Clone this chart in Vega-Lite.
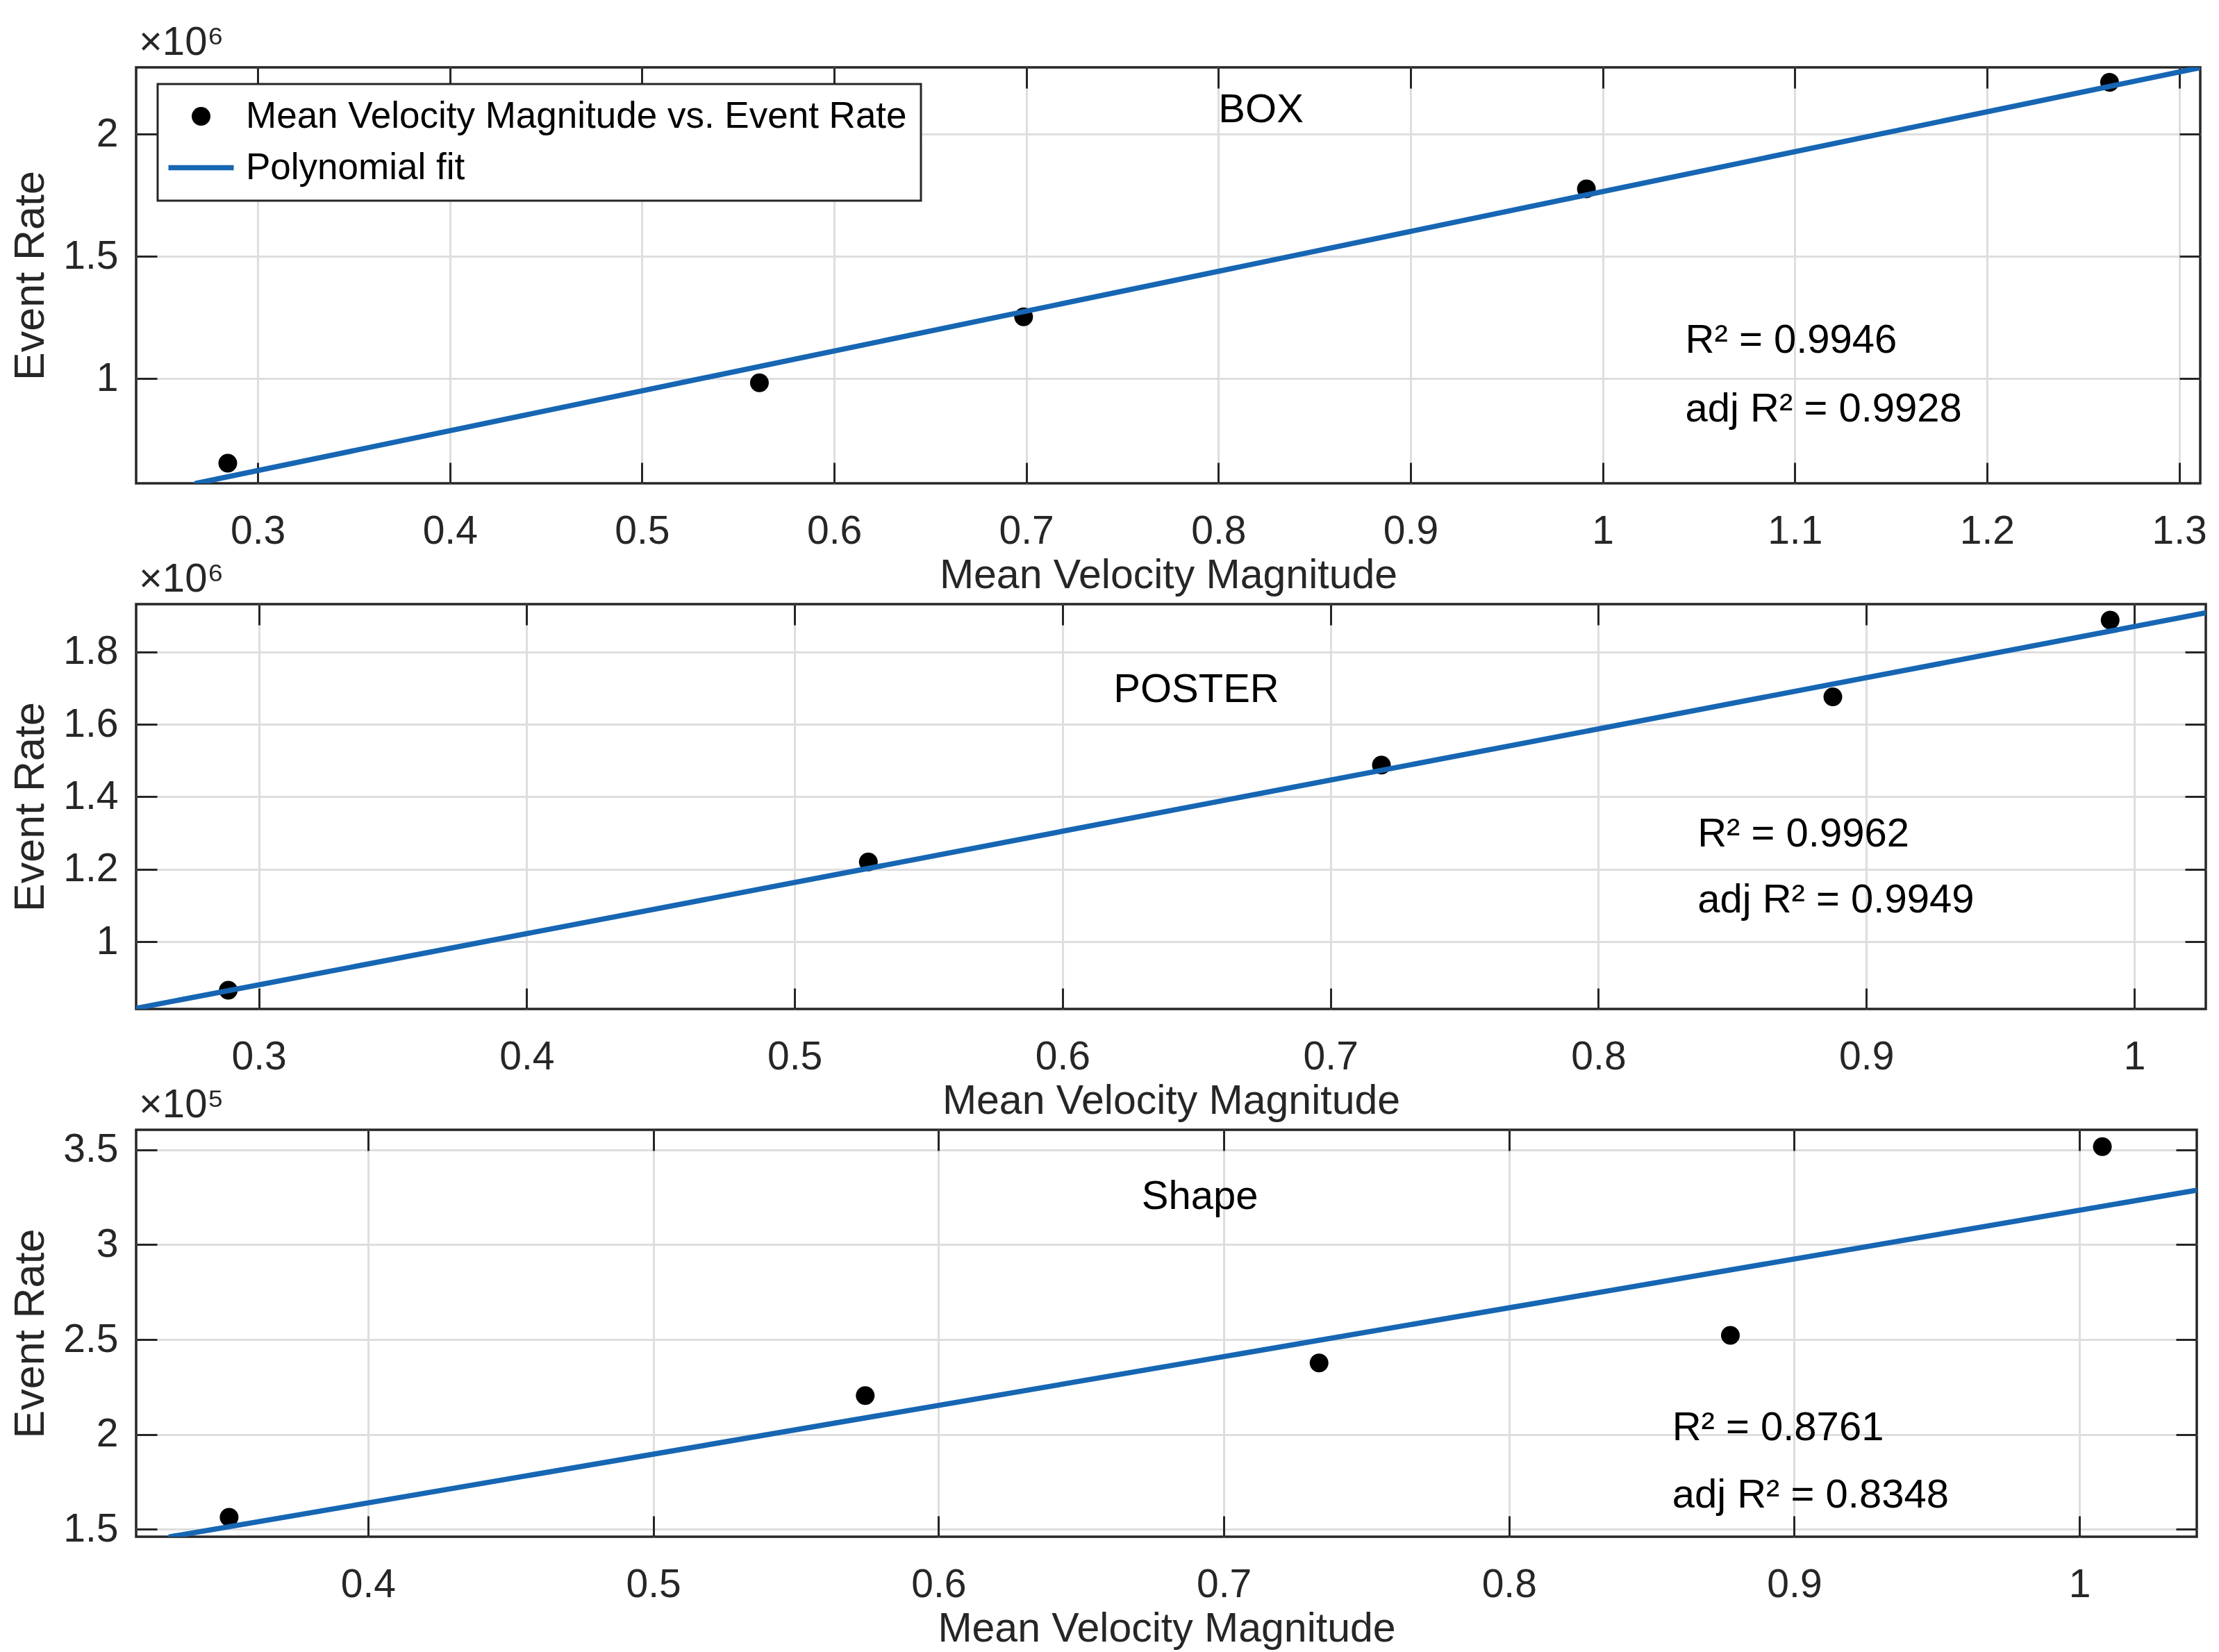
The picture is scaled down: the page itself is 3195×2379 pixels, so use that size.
{
  "$schema": "https://vega.github.io/schema/vega-lite/v6.json",
  "background": "white",
  "padding": {"left": 12, "top": 30, "right": 20, "bottom": 10},
  "datasets": {
    "points": [
      {"panel": "BOX", "series": "Mean Velocity Magnitude vs. Event Rate", "velocity": 0.2844, "rate": 654600},
      {"panel": "BOX", "series": "Mean Velocity Magnitude vs. Event Rate", "velocity": 0.5611, "rate": 983000},
      {"panel": "BOX", "series": "Mean Velocity Magnitude vs. Event Rate", "velocity": 0.6986, "rate": 1253000},
      {"panel": "BOX", "series": "Mean Velocity Magnitude vs. Event Rate", "velocity": 0.9915, "rate": 1777000},
      {"panel": "BOX", "series": "Mean Velocity Magnitude vs. Event Rate", "velocity": 1.2638, "rate": 2213000},
      {"panel": "POSTER", "series": "Mean Velocity Magnitude vs. Event Rate", "velocity": 0.2886, "rate": 866000},
      {"panel": "POSTER", "series": "Mean Velocity Magnitude vs. Event Rate", "velocity": 0.5275, "rate": 1220000},
      {"panel": "POSTER", "series": "Mean Velocity Magnitude vs. Event Rate", "velocity": 0.719, "rate": 1487700},
      {"panel": "POSTER", "series": "Mean Velocity Magnitude vs. Event Rate", "velocity": 0.8875, "rate": 1676000},
      {"panel": "POSTER", "series": "Mean Velocity Magnitude vs. Event Rate", "velocity": 0.991, "rate": 1888000},
      {"panel": "Shape", "series": "Mean Velocity Magnitude vs. Event Rate", "velocity": 0.3513, "rate": 156300},
      {"panel": "Shape", "series": "Mean Velocity Magnitude vs. Event Rate", "velocity": 0.5743, "rate": 220500},
      {"panel": "Shape", "series": "Mean Velocity Magnitude vs. Event Rate", "velocity": 0.7334, "rate": 237700},
      {"panel": "Shape", "series": "Mean Velocity Magnitude vs. Event Rate", "velocity": 0.8776, "rate": 252200},
      {"panel": "Shape", "series": "Mean Velocity Magnitude vs. Event Rate", "velocity": 1.008, "rate": 351600}
    ],
    "fits": [
      {"panel": "BOX", "velocity": 0.268, "rate": 572000},
      {"panel": "BOX", "velocity": 1.311, "rate": 2273000},
      {"panel": "POSTER", "velocity": 0.2542, "rate": 816000},
      {"panel": "POSTER", "velocity": 1.0267, "rate": 1908000},
      {"panel": "Shape", "velocity": 0.3307, "rate": 146100},
      {"panel": "Shape", "velocity": 1.0411, "rate": 328700}
    ],
    "notes": [
      {"panel": "BOX", "label": "BOX", "velocity": 0.8, "rate": 2097000},
      {"panel": "BOX", "label": "R² = 0.9946", "velocity": 1.043, "rate": 1153500},
      {"panel": "BOX", "label": "adj R² = 0.9928", "velocity": 1.043, "rate": 874400},
      {"panel": "POSTER", "label": "POSTER", "velocity": 0.619, "rate": 1695000},
      {"panel": "POSTER", "label": "R² = 0.9962", "velocity": 0.837, "rate": 1296000},
      {"panel": "POSTER", "label": "adj R² = 0.9949", "velocity": 0.837, "rate": 1113600},
      {"panel": "Shape", "label": "Shape", "velocity": 0.6712, "rate": 325000},
      {"panel": "Shape", "label": "R² = 0.8761", "velocity": 0.8572, "rate": 203000},
      {"panel": "Shape", "label": "adj R² = 0.8348", "velocity": 0.8572, "rate": 167700}
    ]
  },
  "vconcat": [
    {
      "width": 2972,
      "height": 599,
      "title": {"text": "×10⁶"},
      "layer": [
        {
          "data": {"name": "points"},
          "transform": [{"filter": "datum.panel == 'BOX'"}],
          "mark": {"type": "point", "filled": true, "size": 2500, "opacity": 1, "strokeWidth": 0},
          "encoding": {
            "x": {"field": "velocity", "type": "quantitative", "scale": {"domain": [0.2367, 1.311], "nice": false, "zero": false},
              "axis": {"title": "Mean Velocity Magnitude", "format": "~g", "values": [0.3, 0.4, 0.5, 0.6, 0.7, 0.8, 0.9, 1, 1.1, 1.2, 1.3]}},
            "y": {"field": "rate", "type": "quantitative", "scale": {"domain": [572000, 2274000], "nice": false, "zero": false},
              "axis": {"title": "Event Rate", "values": [1000000, 1500000, 2000000], "labelExpr": "format(datum.value / 1e6, '~g')"}},
            "color": {"field": "series", "type": "nominal",
              "scale": {"domain": ["Mean Velocity Magnitude vs. Event Rate", "Polynomial fit"], "range": ["black", "#1666b3"]},
              "legend": {"legendX": 31, "legendY": 24}},
            "shape": {"field": "series", "type": "nominal",
              "scale": {"domain": ["Mean Velocity Magnitude vs. Event Rate", "Polynomial fit"],
                "range": ["M -0.54 0 A 0.54 0.54 0 1 1 0.54 0 A 0.54 0.54 0 1 1 -0.54 0 Z", "M -1.88 -0.15 L 1.88 -0.15 L 1.88 0.15 L -1.88 0.15 Z"]},
              "legend": {"legendX": 31, "legendY": 24}}
          }
        },
        {
          "data": {"name": "fits"},
          "transform": [{"filter": "datum.panel == 'BOX'"}],
          "mark": {"type": "line", "color": "#1666b3", "strokeWidth": 7.5, "strokeCap": "round", "clip": true},
          "encoding": {
            "x": {"field": "velocity", "type": "quantitative",
              "axis": {"orient": "top", "labels": false, "grid": false, "title": null, "values": [0.3, 0.4, 0.5, 0.6, 0.7, 0.8, 0.9, 1, 1.1, 1.2, 1.3]}},
            "y": {"field": "rate", "type": "quantitative",
              "axis": {"orient": "right", "labels": false, "grid": false, "title": null, "values": [1000000, 1500000, 2000000]}}
          }
        },
        {
          "data": {"name": "notes"},
          "transform": [{"filter": "datum.panel == 'BOX'"}],
          "mark": {"type": "text", "align": "left", "baseline": "middle", "fontSize": 58, "color": "black"},
          "encoding": {
            "x": {"field": "velocity", "type": "quantitative", "axis": null},
            "y": {"field": "rate", "type": "quantitative", "axis": null},
            "text": {"field": "label"}
          }
        }
      ],
      "resolve": {"axis": {"x": "independent", "y": "independent"}}
    },
    {
      "width": 2980,
      "height": 583,
      "title": {"text": "×10⁶"},
      "layer": [
        {
          "data": {"name": "points"},
          "transform": [{"filter": "datum.panel == 'POSTER'"}],
          "mark": {"type": "point", "filled": true, "size": 2500, "opacity": 1, "strokeWidth": 0},
          "encoding": {
            "x": {"field": "velocity", "type": "quantitative", "scale": {"domain": [0.2542, 1.0267], "nice": false, "zero": false},
              "axis": {"title": "Mean Velocity Magnitude", "format": "~g", "values": [0.3, 0.4, 0.5, 0.6, 0.7, 0.8, 0.9, 1]}},
            "y": {"field": "rate", "type": "quantitative", "scale": {"domain": [814000, 1932000], "nice": false, "zero": false},
              "axis": {"title": "Event Rate", "values": [1000000, 1200000, 1400000, 1600000, 1800000], "labelExpr": "format(datum.value / 1e6, '~g')"}},
            "color": {"field": "series", "type": "nominal",
              "scale": {"domain": ["Mean Velocity Magnitude vs. Event Rate", "Polynomial fit"], "range": ["black", "#1666b3"]},
              "legend": {"legendX": 66, "legendY": 11}},
            "shape": {"field": "series", "type": "nominal",
              "scale": {"domain": ["Mean Velocity Magnitude vs. Event Rate", "Polynomial fit"],
                "range": ["M -0.54 0 A 0.54 0.54 0 1 1 0.54 0 A 0.54 0.54 0 1 1 -0.54 0 Z", "M -1.88 -0.15 L 1.88 -0.15 L 1.88 0.15 L -1.88 0.15 Z"]},
              "legend": {"legendX": 66, "legendY": 11}}
          }
        },
        {
          "data": {"name": "fits"},
          "transform": [{"filter": "datum.panel == 'POSTER'"}],
          "mark": {"type": "line", "color": "#1666b3", "strokeWidth": 7.5, "strokeCap": "round", "clip": true},
          "encoding": {
            "x": {"field": "velocity", "type": "quantitative",
              "axis": {"orient": "top", "labels": false, "grid": false, "title": null, "values": [0.3, 0.4, 0.5, 0.6, 0.7, 0.8, 0.9, 1]}},
            "y": {"field": "rate", "type": "quantitative",
              "axis": {"orient": "right", "labels": false, "grid": false, "title": null, "values": [1000000, 1200000, 1400000, 1600000, 1800000]}}
          }
        },
        {
          "data": {"name": "notes"},
          "transform": [{"filter": "datum.panel == 'POSTER'"}],
          "mark": {"type": "text", "align": "left", "baseline": "middle", "fontSize": 58, "color": "black"},
          "encoding": {
            "x": {"field": "velocity", "type": "quantitative", "axis": null},
            "y": {"field": "rate", "type": "quantitative", "axis": null},
            "text": {"field": "label"}
          }
        }
      ],
      "resolve": {"axis": {"x": "independent", "y": "independent"}}
    },
    {
      "width": 2967,
      "height": 586,
      "title": {"text": "×10⁵"},
      "layer": [
        {
          "data": {"name": "points"},
          "transform": [{"filter": "datum.panel == 'Shape'"}],
          "mark": {"type": "point", "filled": true, "size": 2500, "opacity": 1, "strokeWidth": 0},
          "encoding": {
            "x": {"field": "velocity", "type": "quantitative", "scale": {"domain": [0.3187, 1.0411], "nice": false, "zero": false},
              "axis": {"title": "Mean Velocity Magnitude", "format": "~g", "values": [0.4, 0.5, 0.6, 0.7, 0.8, 0.9, 1]}},
            "y": {"field": "rate", "type": "quantitative", "scale": {"domain": [146100, 360500], "nice": false, "zero": false},
              "axis": {"title": "Event Rate", "values": [150000, 200000, 250000, 300000, 350000], "labelExpr": "format(datum.value / 1e5, '~g')"}},
            "color": {"field": "series", "type": "nominal",
              "scale": {"domain": ["Mean Velocity Magnitude vs. Event Rate", "Polynomial fit"], "range": ["black", "#1666b3"]},
              "legend": {"legendX": 44, "legendY": 38}},
            "shape": {"field": "series", "type": "nominal",
              "scale": {"domain": ["Mean Velocity Magnitude vs. Event Rate", "Polynomial fit"],
                "range": ["M -0.54 0 A 0.54 0.54 0 1 1 0.54 0 A 0.54 0.54 0 1 1 -0.54 0 Z", "M -1.88 -0.15 L 1.88 -0.15 L 1.88 0.15 L -1.88 0.15 Z"]},
              "legend": {"legendX": 44, "legendY": 38}}
          }
        },
        {
          "data": {"name": "fits"},
          "transform": [{"filter": "datum.panel == 'Shape'"}],
          "mark": {"type": "line", "color": "#1666b3", "strokeWidth": 7.5, "strokeCap": "round", "clip": true},
          "encoding": {
            "x": {"field": "velocity", "type": "quantitative",
              "axis": {"orient": "top", "labels": false, "grid": false, "title": null, "values": [0.4, 0.5, 0.6, 0.7, 0.8, 0.9, 1]}},
            "y": {"field": "rate", "type": "quantitative",
              "axis": {"orient": "right", "labels": false, "grid": false, "title": null, "values": [150000, 200000, 250000, 300000, 350000]}}
          }
        },
        {
          "data": {"name": "notes"},
          "transform": [{"filter": "datum.panel == 'Shape'"}],
          "mark": {"type": "text", "align": "left", "baseline": "middle", "fontSize": 58, "color": "black"},
          "encoding": {
            "x": {"field": "velocity", "type": "quantitative", "axis": null},
            "y": {"field": "rate", "type": "quantitative", "axis": null},
            "text": {"field": "label"}
          }
        }
      ],
      "resolve": {"axis": {"x": "independent", "y": "independent"}}
    }
  ],
  "spacing": 174,
  "bounds": "flush",
  "config": {
    "font": "Liberation Sans",
    "view": {"stroke": "#262626", "strokeWidth": 3.5},
    "axis": {
      "domain": false,
      "gridColor": "#dedede",
      "gridWidth": 3,
      "gridOpacity": 1,
      "tickColor": "#262626",
      "tickWidth": 3,
      "tickSize": -30,
      "labelColor": "#262626",
      "labelFontSize": 57,
      "labelFont": "Liberation Sans",
      "titleColor": "#262626",
      "titleFontSize": 59,
      "titleFontWeight": "normal",
      "titleFont": "Liberation Sans"
    },
    "axisX": {"labelPadding": 71, "titlePadding": 6, "labelFlush": false},
    "axisY": {"labelPadding": 56, "titlePadding": 15, "titleFontSize": 61},
    "legend": {
      "orient": "none",
      "title": null,
      "strokeColor": "#262626",
      "strokeWidth": 3,
      "fillColor": "white",
      "padding": 20,
      "symbolSize": 2500,
      "symbolOffset": 16,
      "symbolStrokeWidth": 0,
      "labelOffset": 38,
      "rowPadding": 20,
      "labelFontSize": 53,
      "labelColor": "black",
      "labelLimit": 0,
      "labelFont": "Liberation Sans"
    },
    "title": {
      "anchor": "start",
      "frame": "group",
      "fontSize": 58,
      "fontWeight": "normal",
      "color": "#262626",
      "offset": 5,
      "dx": 4,
      "font": "Liberation Sans"
    }
  }
}
